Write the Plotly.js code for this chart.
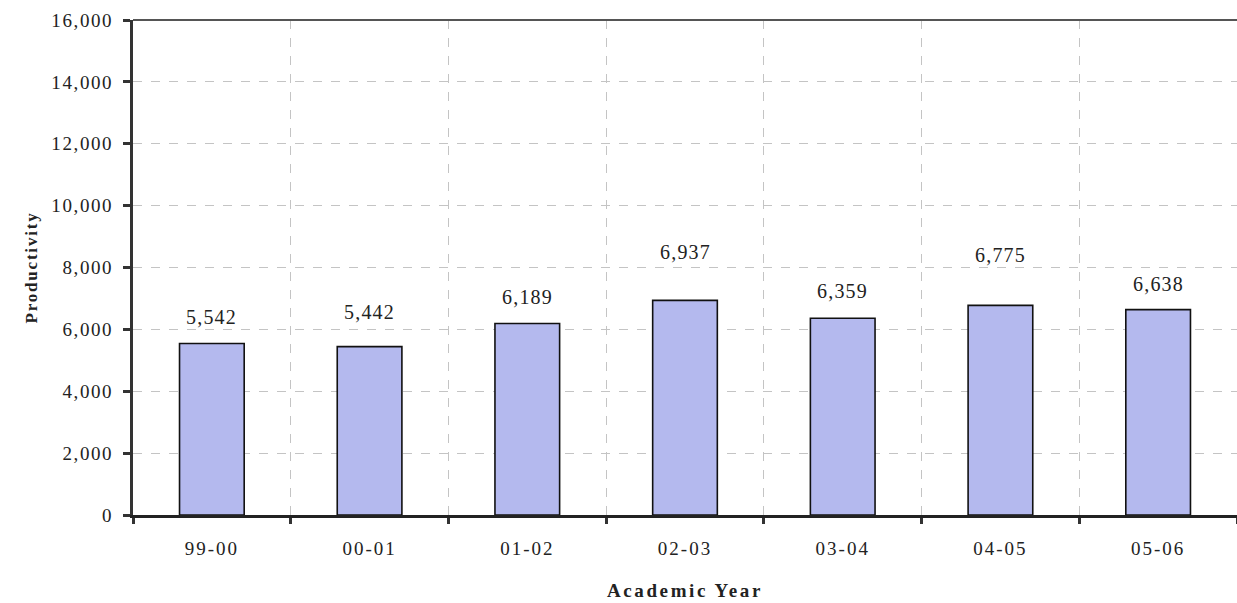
<!DOCTYPE html>
<html>
<head>
<meta charset="utf-8">
<script src="https://cdn.plot.ly/plotly-3.0.1.min.js"></script>
<style>
html, body { margin: 0; padding: 0; background: #fff; }
#chart { width: 1237px; height: 603px; }
.g-xtitle text { letter-spacing: 2.6px; }
.g-ytitle text { letter-spacing: 1.8px; }
.xtick text { letter-spacing: 2px; }
.ytick text { letter-spacing: 1.6px; }
.annotation-text { letter-spacing: 1.2px; }
</style>
</head>
<body>
<div id="chart"></div>
<script>
// ---- data ----
const years = ["99-00", "00-01", "01-02", "02-03", "03-04", "04-05", "05-06"];
const productivity = [5542, 5442, 6189, 6937, 6359, 6775, 6638];
const yTickVals = [0, 2000, 4000, 6000, 8000, 10000, 12000, 14000, 16000];

// ---- style ----
const serif = "Liberation Serif";
const labelLift = [27, 35, 27, 48, 27, 50, 26];

const trace = {
  type: "bar",
  x: years,
  y: productivity,
  marker: { color: "#b4b9ee", line: { color: "#111111", width: 1.6 } },
  hoverinfo: "x+y"
};

const annotations = years.map((yr, i) => ({
  x: yr, y: productivity[i], xref: "x", yref: "y",
  text: productivity[i].toLocaleString("en-US"),
  showarrow: false, yanchor: "middle", yshift: labelLift[i],
  font: { family: serif, size: 20, color: "#222" }
}));

const layout = {
  width: 1237, height: 603,
  margin: { l: 133, r: 0, t: 20, b: 88 },
  paper_bgcolor: "#ffffff", plot_bgcolor: "#ffffff",
  showlegend: false,
  bargap: 0.59,
  font: { family: serif, color: "#222" },
  xaxis: {
    type: "category",
    tickson: "boundaries",
    ticks: "outside", ticklen: 6, tickwidth: 3, tickcolor: "#333",
    ticklabelstandoff: 14,
    showline: true, linecolor: "#222", linewidth: 3,
    showgrid: true, gridcolor: "#c4c4c4", gridwidth: 1, griddash: "dash",
    tickfont: { family: serif, size: 19, color: "#222" },
    title: { text: "Academic Year", font: { family: serif, size: 19, color: "#222", weight: "bold" }, standoff: 26 },
    automargin: false,
    fixedrange: true
  },
  yaxis: {
    range: [0, 16000],
    tickvals: yTickVals,
    tickformat: ",d",
    ticks: "outside", ticklen: 7, tickwidth: 3, tickcolor: "#333",
    ticklabelstandoff: 6,
    showline: true, linecolor: "#333", linewidth: 3,
    showgrid: true, gridcolor: "#c4c4c4", gridwidth: 1, griddash: "dash",
    zeroline: false,
    tickfont: { family: serif, size: 19, color: "#222" },
    title: { text: "Productivity", font: { family: serif, size: 17, color: "#222", weight: "bold" }, standoff: 10 },
    automargin: false,
    fixedrange: true
  },
  shapes: [
    { type: "line", xref: "paper", yref: "paper", x0: 0, x1: 1, y0: 1, y1: 1,
      line: { color: "#555", width: 2 } }
  ],
  annotations: annotations
};

Plotly.newPlot("chart", [trace], layout, { displayModeBar: false, staticPlot: true });
</script>
</body>
</html>
